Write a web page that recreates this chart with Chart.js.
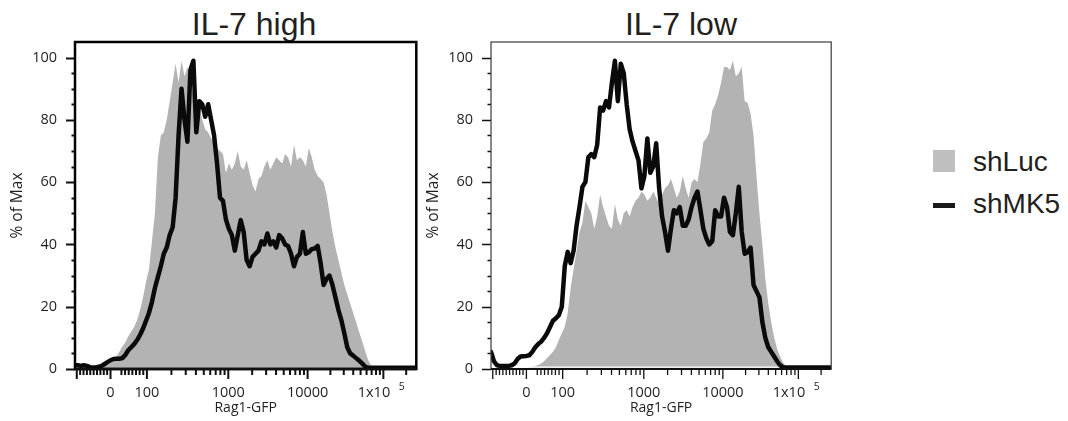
<!DOCTYPE html>
<html>
<head>
<meta charset="utf-8">
<script src="https://cdn.jsdelivr.net/npm/chart.js@4/dist/chart.umd.min.js"></script>
<style>
  body { margin: 0; width: 1068px; height: 421px; background: #fff; position: relative; overflow: hidden;
         font-family: "Liberation Sans", Arial, sans-serif; color: #231f20; }
  canvas { position: absolute; top: 0; }
  .title { position: absolute; top: 8px; width: 300px; text-align: center; font-size: 32px; line-height: 32px; white-space: nowrap; }
  .lg-text { position: absolute; left: 973px; font-size: 28px; line-height: 28px; white-space: nowrap; }
  .lg-box { position: absolute; left: 933px; width: 22px; }
</style>
</head>
<body>
<div class="title" style="left:104px">IL-7 high</div>
<div class="title" style="left:531px">IL-7 low</div>
<canvas id="high" width="425" height="421" style="left:0"></canvas>
<canvas id="low" width="424" height="421" style="left:416px"></canvas>

<div class="lg-box" style="top:150px;height:22px;background:#bfbfbf"></div>
<div class="lg-text" style="top:148px">shLuc</div>
<div class="lg-box" style="top:203px;height:5px;background:#1a1a1a"></div>
<div class="lg-text" style="top:190px">shMK5</div>

<script>
// Rag1-GFP histograms (% of max) per display bin, bins 0..115 across the biexponential axis
const highLuc = [
  0.5, 0.5, 0.5, 0.5, 0.5, 0.5, 0.5, 0.6, 0.7, 0.8,
  1.0, 1.3, 1.8, 2.8, 4.0, 5.5, 7.2, 8.5, 10.5, 12,
  13.5, 15.7, 19, 23, 28, 32, 41, 50, 68, 75,
  76, 80, 86, 92, 98, 92, 99, 94, 97, 92,
  88, 86, 84, 80, 77, 76, 74, 73, 71, 70,
  69, 63, 66, 64, 66, 70, 65, 64, 67, 63,
  59, 57, 61, 62, 65, 67, 64, 66, 68, 67,
  66, 69, 68, 65, 72, 67, 68, 67, 65, 71,
  68, 64, 62, 61, 60, 56, 50, 44, 39, 35,
  31, 27, 24, 21, 18, 15, 12, 9, 6, 3,
  1.2, 0.5, 0, 0, 0, 0, 0, 0, 0, 0,
  0, 0, 0, 0, 0, 0
];
const highMK5 = [
  1.2, 1.2, 1.0, 1.2, 1.0, 0.6, 0.5, 0.5, 0.7, 1.0,
  1.6, 2.2, 2.8, 3.2, 3.3, 3.3, 3.5, 4.5, 6, 7,
  8, 9.3, 11, 13, 15.5, 18, 21.5, 26, 29.5, 33,
  37, 39, 43, 45.5, 55, 75, 90, 80, 73, 96,
  99, 76, 86, 85, 81, 85, 80, 75, 66, 55,
  54, 48, 45, 43, 38, 43, 47.8, 44, 35, 33,
  36, 37, 38, 41, 40, 43.5, 40, 41, 39, 43,
  42, 40, 39.5, 37, 33, 36, 37, 44, 37, 37.5,
  38.5, 38.7, 39.5, 34, 27, 29, 30, 27, 23, 19,
  15.7, 11.5, 7, 5, 4.3, 3.5, 2.7, 1.8, 0.8, 0.4,
  0.4, 0.4, 0.4, 0.4, 0.4, 0.4, 0.4, 0.4, 0.4, 0.4,
  0.4, 0.4, 0.4, 0.4, 0.4, 0.4
];
const lowLuc = [
  0, 0, 0, 0, 0, 0, 0, 0, 0, 0,
  0, 0, 0.3, 0.5, 0.7, 1.0, 1.3, 1.8, 2.5, 3.5,
  4.5, 5.5, 7, 9.3, 11.5, 13.6, 18, 26, 32, 38,
  44, 47, 54, 52, 50, 45, 49, 56, 52, 49,
  46, 45, 53, 48, 46, 50, 51, 49, 52, 54,
  55, 57, 56, 54, 55, 57, 55, 53, 56, 58,
  59, 61, 58, 55, 57, 62, 58, 55, 60, 61,
  60, 66, 73, 74, 76, 83, 85, 88, 92, 97,
  97, 96, 99, 94, 95, 97, 86, 85.5, 82, 75,
  62, 50, 40, 29, 21, 15, 10, 6.5, 4, 2,
  1, 0.3, 0, 0, 0, 0, 0, 0, 0, 0,
  0, 0, 0, 0, 0, 0
];
const lowMK5 = [
  5.5, 2.5, 1.2, 1, 1, 1, 1, 1.2, 1.8, 3.2,
  4, 4.1, 4.2, 4.4, 5.5, 7, 8, 8.8, 10, 11.5,
  13.5, 15.5, 16.3, 17.3, 20, 33, 37.6, 34, 38, 46,
  52, 58.5, 60, 68, 69, 68, 72, 84, 83, 86,
  84, 92, 99, 86, 98, 95, 85, 77, 73, 70,
  67, 58, 62, 74, 63, 65, 72.5, 58, 49, 44,
  38, 45, 51, 50, 52, 46, 46, 48, 52, 55,
  57, 51, 45, 42, 40, 41, 51, 49, 49, 55,
  52, 44, 43, 50, 58.5, 44, 37, 37.5, 39, 27,
  25, 23, 15, 10, 7, 5.5, 4, 2.5, 1.2, 0.6,
  0.5, 0.5, 0.5, 0.5, 0.5, 0.5, 0.5, 0.5, 0.5, 0.5,
  0.5, 0.5, 0.5, 0.5, 0.5, 0.5
];

// axis labels
const xTickValues = [0, 100, 1000, 10000, 100000];
const xTickLabels = ['0', '100', '1000', '10000', '1x10     '];
const yTickValues = [0, 20, 40, 60, 80, 100];

// biexponential display: linear around zero, logarithmic from 100 upwards
const ZERO_BIN = 12.0;
const MINUS100_BIN = 0.6;
const DECADE_VALUES = [100, 1000, 10000, 100000];
const DECADE_BINS = [24.3, 51.8, 78.6, 104.2];
const X_MAX = 115.33;

function displayPos(v) {
  if (v < 0) return ZERO_BIN + (v / 100) * (ZERO_BIN - MINUS100_BIN);
  if (v <= DECADE_VALUES[0]) return ZERO_BIN + (v / DECADE_VALUES[0]) * (DECADE_BINS[0] - ZERO_BIN);
  let i = 0;
  while (i < DECADE_VALUES.length - 2 && v > DECADE_VALUES[i + 1]) i++;
  const t = Math.log10(v / DECADE_VALUES[i]) / Math.log10(DECADE_VALUES[i + 1] / DECADE_VALUES[i]);
  return DECADE_BINS[i] + t * (DECADE_BINS[i + 1] - DECADE_BINS[i]);
}

const majorX = [-100, 0, 100, 1000, 10000, 100000];
const minorX = [];
for (let k = 1; k <= 9; k++) minorX.push(-k * 10);
for (let k = 3; k <= 9; k++) minorX.push(k * 10);
for (const d of DECADE_VALUES) for (let k = 2; k <= 9; k++) minorX.push(k * d);

const INK = '#231f20';
const TICK_FONT = { family: "'Open Sans', sans-serif", size: 14.5 };

// tick marks, frame and the exponent of the last label
const flowAxes = {
  id: 'flowAxes',
  afterDatasetDraw(chart, args, opts) {
    if (opts.baseGap && args.index === 1) {
      const { ctx, chartArea: { left, right, bottom } } = chart;
      ctx.save();
      ctx.strokeStyle = '#ffffff';
      ctx.lineWidth = 1.2;
      ctx.beginPath();
      ctx.moveTo(left, bottom - 1.8);
      ctx.lineTo(right, bottom - 1.8);
      ctx.stroke();
      ctx.restore();
    }
  },
  afterDraw(chart, args, opts) {
    const { ctx, chartArea: { left, right, top, bottom }, scales: { x, y } } = chart;
    ctx.save();
    ctx.strokeStyle = '#111';
    ctx.lineWidth = opts.tickWidth;
    ctx.beginPath();
    for (let v = 0; v <= 100; v += 5) {
      const py = Math.round(y.getPixelForValue(v)) + 0.5;
      const len = v % 20 === 0 ? 9 : 3.5;
      ctx.moveTo(left - len, py);
      ctx.lineTo(left, py);
    }
    const drawX = (v, len) => {
      const pos = displayPos(v);
      if (pos < 0 || pos > X_MAX) return;
      const px = x.getPixelForValue(pos);
      ctx.moveTo(px, bottom);
      ctx.lineTo(px, bottom + len);
    };
    majorX.forEach(v => drawX(v, 10));
    minorX.forEach(v => drawX(v, 6));
    ctx.stroke();

    ctx.strokeStyle = opts.frameColor;
    ctx.lineWidth = opts.frameWidth;
    ctx.strokeRect(left, top, right - left, bottom - top);
    ctx.strokeStyle = '#111';
    ctx.lineWidth = opts.axisWidth;
    ctx.beginPath();
    ctx.moveTo(left, bottom);
    ctx.lineTo(right, bottom);
    ctx.stroke();

    ctx.fillStyle = INK;
    ctx.font = "10.5px 'Open Sans', sans-serif";
    ctx.textAlign = 'center';
    ctx.textBaseline = 'middle';
    ctx.fillText('5', x.getPixelForValue(displayPos(100000)) + 18.4, bottom + 17.7);
    ctx.restore();
  }
};

function makePanel(id, luc, mk5, style) {
  return new Chart(document.getElementById(id), {
    type: 'line',
    data: {
      datasets: [
        {
          label: 'shMK5',
          data: mk5.map((v, i) => ({ x: i, y: v })),
          borderColor: '#0a0a0a',
          borderWidth: 4.5,
          borderJoinStyle: 'round',
          borderCapStyle: 'round',
          pointRadius: 0,
          tension: 0,
          fill: false
        },
        {
          label: 'shLuc',
          data: luc.map((v, i) => ({ x: i, y: v })),
          borderColor: 'rgba(0,0,0,0)',
          borderWidth: 0,
          backgroundColor: '#b3b3b3',
          pointRadius: 0,
          tension: 0,
          fill: 'origin'
        }
      ]
    },
    options: {
      responsive: false,
      animation: false,
      devicePixelRatio: 1,
      layout: { padding: { left: 0, right: 4, top: 42, bottom: 0 } },
      plugins: {
        legend: { display: false },
        tooltip: { enabled: false },
        flowAxes: style
      },
      scales: {
        x: {
          type: 'linear',
          min: 0,
          max: X_MAX,
          grid: { display: false, drawTicks: false },
          border: { display: false },
          afterBuildTicks: s => { s.ticks = xTickValues.map(v => ({ value: displayPos(v) })); },
          afterFit: s => { s.height = 52; },
          ticks: {
            autoSkip: false, maxRotation: 0, minRotation: 0,
            padding: 15.6, color: INK, font: TICK_FONT,
            callback: (val, i) => xTickLabels[i]
          },
          title: {
            display: true, text: 'Rag1-GFP', color: INK,
            font: { family: "'Open Sans', sans-serif", size: 14 },
            padding: { top: 0, bottom: 4.5 }
          }
        },
        y: {
          min: 0,
          max: 105,
          grid: { display: false, drawTicks: false },
          border: { display: false },
          afterBuildTicks: s => { s.ticks = yTickValues.map(v => ({ value: v })); },
          afterFit: s => { s.width = 75; },
          ticks: { padding: 18, color: INK, font: TICK_FONT },
          title: {
            display: true, text: '% of Max', color: INK,
            font: { family: "'Open Sans', sans-serif", size: 15.5 },
            padding: { top: 8, bottom: 0 }
          }
        }
      }
    },
    plugins: [flowAxes]
  });
}

makePanel('high', highLuc, highMK5, { frameWidth: 2.5, frameColor: '#000', tickWidth: 2, axisWidth: 2.5, baseGap: false });
makePanel('low', lowLuc, lowMK5, { frameWidth: 1.2, frameColor: '#3a3a3a', tickWidth: 1.3, axisWidth: 1.8, baseGap: true });
</script>
</body>
</html>
